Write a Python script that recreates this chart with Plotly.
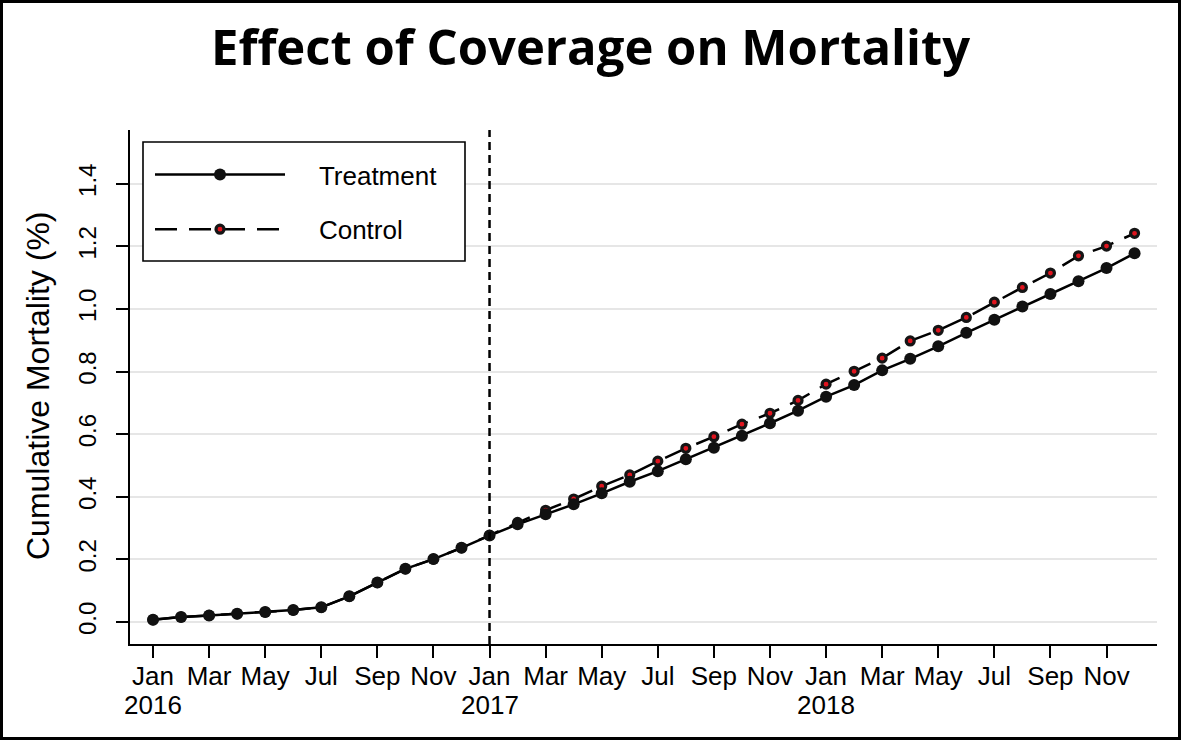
import plotly.graph_objects as go

months = [
    "2016-01", "2016-02", "2016-03", "2016-04", "2016-05", "2016-06",
    "2016-07", "2016-08", "2016-09", "2016-10", "2016-11", "2016-12",
    "2017-01", "2017-02", "2017-03", "2017-04", "2017-05", "2017-06",
    "2017-07", "2017-08", "2017-09", "2017-10", "2017-11", "2017-12",
    "2018-01", "2018-02", "2018-03", "2018-04", "2018-05", "2018-06",
    "2018-07", "2018-08", "2018-09", "2018-10", "2018-11", "2018-12",
]

treatment = [
    0.007, 0.016, 0.021, 0.026, 0.032, 0.038, 0.047, 0.082, 0.126, 0.170, 0.201, 0.237,
    0.276, 0.312, 0.344, 0.376, 0.411, 0.448, 0.482, 0.520, 0.557, 0.595, 0.635, 0.675,
    0.720, 0.757, 0.804, 0.841, 0.881, 0.924, 0.966, 1.008, 1.048, 1.089, 1.131, 1.178,
]

control = [
    0.007, 0.016, 0.021, 0.026, 0.032, 0.038, 0.047, 0.082, 0.126, 0.170, 0.201, 0.237,
    0.277, 0.318, 0.357, 0.393, 0.434, 0.470, 0.514, 0.555, 0.592, 0.632, 0.667, 0.708,
    0.760, 0.801, 0.843, 0.898, 0.932, 0.973, 1.022, 1.069, 1.115, 1.170, 1.201, 1.242,
]

tick_months = ["2016-01", "2016-03", "2016-05", "2016-07", "2016-09", "2016-11",
               "2017-01", "2017-03", "2017-05", "2017-07", "2017-09", "2017-11",
               "2018-01", "2018-03", "2018-05", "2018-07", "2018-09", "2018-11"]
tick_text = ["Jan", "Mar", "May", "Jul", "Sep", "Nov",
             "Jan", "Mar", "May", "Jul", "Sep", "Nov",
             "Jan", "Mar", "May", "Jul", "Sep", "Nov"]
year_months = ["2016-01", "2017-01", "2018-01"]
year_labels = ["2016", "2017", "2018"]

y_ticks = [0.0, 0.2, 0.4, 0.6, 0.8, 1.0, 1.2, 1.4]
intervention_month = "2017-01"

W, H = 1181, 740
L, R, T, B = 130, 24, 130, 96
pw, ph = W - L - R, H - T - B


def px_x(p):
    return (p - L) / pw


def px_y(p):
    return (H - B - p) / ph


NB = "\u00a0"
fig = go.Figure()

fig.add_trace(go.Scatter(
    x=months, y=control, name=NB * 4 + "Control", mode="lines+markers",
    line=dict(color="black", width=2.5, dash="22px,12px"),
    marker=dict(symbol="circle", size=8, color="#e0141e",
                line=dict(color="#151515", width=3.2)),
    legendrank=2, legendgroup="c",
))
fig.add_trace(go.Scatter(
    x=months, y=treatment, name=NB * 4 + "Treatment", mode="lines+markers",
    line=dict(color="black", width=2.5),
    marker=dict(symbol="circle", size=12, color="#111111"),
    legendrank=1, legendgroup="t",
))

# vertical dashed line at intervention
fig.add_shape(type="line", xref="x", yref="paper", x0=intervention_month, x1=intervention_month,
              y0=0, y1=1, line=dict(color="black", width=2.5, dash="8px,5px"), layer="above")

# legend box
fig.add_shape(type="rect", xref="paper", yref="paper",
              x0=px_x(143), x1=px_x(465), y0=px_y(261), y1=px_y(142),
              line=dict(color="black", width=1.6), fillcolor="white", layer="above")

# outer border
fig.add_shape(type="rect", xref="paper", yref="paper",
              x0=px_x(1.5), x1=px_x(W - 1.5), y0=px_y(H - 1.5), y1=px_y(1.5),
              line=dict(color="black", width=3), fillcolor="rgba(0,0,0,0)", layer="above")

annotations = []
for m, lab in zip(year_months, year_labels):
    annotations.append(dict(x=m, xref="x", y=px_y(705), yref="paper", text=lab,
                            showarrow=False, xanchor="center", yanchor="middle",
                            font=dict(size=26, family="Liberation Sans, Arial, sans-serif")))
annotations.append(dict(x=px_x(38), xref="paper", y=px_y(386), yref="paper",
                        text="Cumulative Mortality (%)", textangle=-90, showarrow=False,
                        xanchor="center", yanchor="middle",
                        font=dict(size=32, family="Liberation Sans, Arial, sans-serif")))

fig.update_layout(
    width=W, height=H,
    margin=dict(l=L, r=R, t=T, b=B),
    paper_bgcolor="white", plot_bgcolor="white",
    font=dict(family="Liberation Sans, Arial, sans-serif", color="black", size=22),
    title=dict(text="<b>Effect of Coverage on Mortality</b>", x=0.5, xanchor="center",
               y=1 - 48 / H, yanchor="middle",
               font=dict(family="Open Sans, sans-serif", size=49, color="black", weight=800)),
    showlegend=True,
    legend=dict(x=px_x(150), y=px_y(151), xanchor="left", yanchor="top",
                bgcolor="rgba(0,0,0,0)", borderwidth=0,
                font=dict(size=26, family="Liberation Sans, Arial, sans-serif"),
                itemwidth=130, tracegroupgap=18, traceorder="grouped"),
    annotations=annotations,
    xaxis=dict(type="category", categoryorder="array", categoryarray=months,
               range=[-0.82, 35.8], tickmode="array", tickvals=tick_months, ticktext=tick_text,
               ticks="outside", ticklen=12, tickwidth=2, tickcolor="black",
               showline=True, linecolor="black", linewidth=2, showgrid=False,
               zeroline=False, tickfont=dict(size=26), tickangle=0, ticklabelstandoff=-4),
    yaxis=dict(range=[-0.0703, 1.572], tickmode="array", tickvals=y_ticks,
               tickformat=".1f", ticks="outside", ticklen=12, tickwidth=2, tickcolor="black",
               showline=True, linecolor="black", linewidth=2,
               showgrid=True, gridcolor="#e6e6e6", gridwidth=2, zeroline=False,
               tickangle=-90, tickfont=dict(size=24), ticklabelstandoff=10),
)

fig.write_html("out.html", config={"displayModeBar": False},
               post_script="document.body.style.margin='0';document.body.style.overflow='hidden';")
